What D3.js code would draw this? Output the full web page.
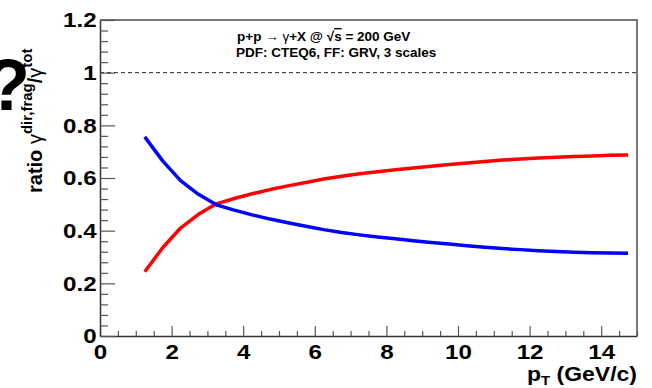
<!DOCTYPE html>
<html>
<head>
<meta charset="utf-8">
<script src="https://cdn.jsdelivr.net/npm/d3@7"></script>
<style>
  body { margin: 0; background: #fff; }
  text { font-family: "Liberation Sans", Arial, Helvetica, sans-serif; }
</style>
</head>
<body>
<div id="container"></div>
<script>
var width = 652, height = 388;

// pT bins (GeV/c) and the two fractions of the total photon yield
const pt = [1.25, 1.75, 2.25, 2.75, 3.25, 3.75, 4.25, 4.75, 5.25, 5.75, 6.25, 6.75, 7.25, 7.75,
            8.25, 8.75, 9.25, 9.75, 10.25, 10.75, 11.25, 11.75, 12.25, 12.75, 13.25, 13.75, 14.25, 14.75];
const ratioDir = [0.244, 0.335, 0.410, 0.462, 0.502, 0.522, 0.540, 0.556, 0.570, 0.583, 0.596, 0.607, 0.616, 0.624,
                  0.631, 0.638, 0.645, 0.651, 0.657, 0.663, 0.668, 0.672, 0.676, 0.679, 0.682, 0.684, 0.686, 0.687];
const ratioFrag = [0.756, 0.665, 0.590, 0.538, 0.498, 0.478, 0.460, 0.444, 0.430, 0.417, 0.404, 0.393, 0.384, 0.376,
                   0.369, 0.362, 0.355, 0.349, 0.343, 0.337, 0.332, 0.328, 0.324, 0.321, 0.318, 0.316, 0.315, 0.314];

const xMajor = [0, 2, 4, 6, 8, 10, 12, 14];
const xMinor = [0.5, 1, 1.5, 2.5, 3, 3.5, 4.5, 5, 5.5, 6.5, 7, 7.5, 8.5, 9, 9.5, 10.5, 11, 11.5, 12.5, 13, 13.5, 14.5, 15];
const yMajor = [0, 0.2, 0.4, 0.6, 0.8, 1, 1.2];
const yMinor = [0.04, 0.08, 0.12, 0.16, 0.24, 0.28, 0.32, 0.36, 0.44, 0.48, 0.52, 0.56,
                0.64, 0.68, 0.72, 0.76, 0.84, 0.88, 0.92, 0.96, 1.04, 1.08, 1.12, 1.16];

const x = d3.scaleLinear().domain([0, 15]).range([100, 637]);
const y = d3.scaleLinear().domain([0, 1.2]).range([336, 20]);

const svg = d3.select("div#container").append("svg")
    .attr("width", width)
    .attr("height", height);

// top and right frame
svg.append("path")
    .attr("d", `M${x(0)},${y(1.2)}H${x(15)}V${y(0)}`)
    .attr("fill", "none")
    .attr("stroke", "#777")
    .attr("stroke-width", 2);

// reference line at 1
svg.append("line")
    .attr("x1", x(0)).attr("x2", x(15))
    .attr("y1", y(1)).attr("y2", y(1))
    .attr("stroke", "#222")
    .attr("stroke-width", 1)
    .attr("stroke-dasharray", "4,3");

const fmt = d3.format("~g");

// x axis: ticks point inward
const gx = svg.append("g")
    .attr("transform", `translate(0,${y(0)})`)
    .call(d3.axisBottom(x).tickValues(xMajor).tickSize(-10).tickSizeOuter(0).tickPadding(8).tickFormat(fmt));
svg.append("g")
    .attr("transform", `translate(0,${y(0)})`)
    .call(d3.axisBottom(x).tickValues(xMinor).tickSize(-5).tickSizeOuter(0).tickFormat(""))
    .call(g => g.select(".domain").remove());

const gy = svg.append("g")
    .attr("transform", `translate(${x(0)},0)`)
    .call(d3.axisLeft(y).tickValues(yMajor).tickSize(-15).tickSizeOuter(0).tickPadding(3).tickFormat(fmt));
svg.append("g")
    .attr("transform", `translate(${x(0)},0)`)
    .call(d3.axisLeft(y).tickValues(yMinor).tickSize(-8).tickSizeOuter(0).tickFormat(""))
    .call(g => g.select(".domain").remove());

svg.selectAll(".tick line").attr("stroke", "#555").attr("stroke-width", 1.2);
svg.selectAll(".domain").attr("stroke", "#333").attr("stroke-width", 1.5);

gx.selectAll(".tick text")
    .attr("font-size", 21)
    .attr("font-weight", "bold")
    .attr("fill", "#000")
    .attr("transform", "scale(1.15,1)");
gy.selectAll(".tick text")
    .attr("font-size", 21)
    .attr("font-weight", "bold")
    .attr("fill", "#000")
    .attr("transform", "scale(1.15,1)");

// curves
const line = d3.line()
    .x(d => x(d[0]))
    .y(d => y(d[1]));

svg.append("path")
    .datum(pt.map((p, i) => [p, ratioDir[i]]))
    .attr("d", line)
    .attr("fill", "none")
    .attr("stroke", "#ff0000")
    .attr("stroke-width", 3.5)
    .attr("stroke-linejoin", "round");

svg.append("path")
    .datum(pt.map((p, i) => [p, ratioFrag[i]]))
    .attr("d", line)
    .attr("fill", "none")
    .attr("stroke", "#0000ff")
    .attr("stroke-width", 3.5)
    .attr("stroke-linejoin", "round");

// process / setup labels
const t1 = svg.append("text")
    .attr("x", 237).attr("y", 41)
    .attr("font-size", 13.5)
    .attr("font-weight", "bold");
t1.append("tspan").text("p+p ");
t1.append("tspan").attr("font-weight", "normal").text("→ γ");
t1.append("tspan").text("+X @ √");
t1.append("tspan").style("text-decoration", "overline").text("s");
t1.append("tspan").text(" = 200 GeV");

svg.append("text")
    .attr("x", 236).attr("y", 57)
    .attr("font-size", 13.5)
    .attr("font-weight", "bold")
    .text("PDF: CTEQ6, FF: GRV, 3 scales");

// axis titles
const xt = svg.append("text")
    .attr("text-anchor", "end")
    .attr("transform", `translate(637,381) scale(1.15,1)`)
    .attr("font-size", 20)
    .attr("font-weight", "bold");
xt.append("tspan").text("p");
xt.append("tspan").attr("font-size", 13).attr("dy", 4).text("T");
xt.append("tspan").attr("dy", -4).text(" (GeV/c)");

const yt = svg.append("text")
    .attr("transform", "translate(42,193) rotate(-90)")
    .attr("font-size", 20)
    .attr("font-weight", "bold");
yt.append("tspan").text("ratio ");
yt.append("tspan").attr("font-weight", "normal").text("γ");
yt.append("tspan").attr("font-size", 15).attr("dy", -10).text("dir,frag");
yt.append("tspan").attr("font-size", 20).attr("dy", 10).text("/");
yt.append("tspan").attr("font-weight", "normal").text("γ");
yt.append("tspan").attr("font-size", 15).attr("dy", -10).text("tot");

// glyphs cut by the left edge
svg.append("text")
    .attr("x", -14).attr("y", 110)
    .attr("font-size", 72)
    .attr("font-weight", "bold")
    .text("?");
svg.append("text")
    .attr("x", -6).attr("y", 416)
    .attr("font-size", 40)
    .attr("font-weight", "bold")
    .text("C");
</script>
</body>
</html>
